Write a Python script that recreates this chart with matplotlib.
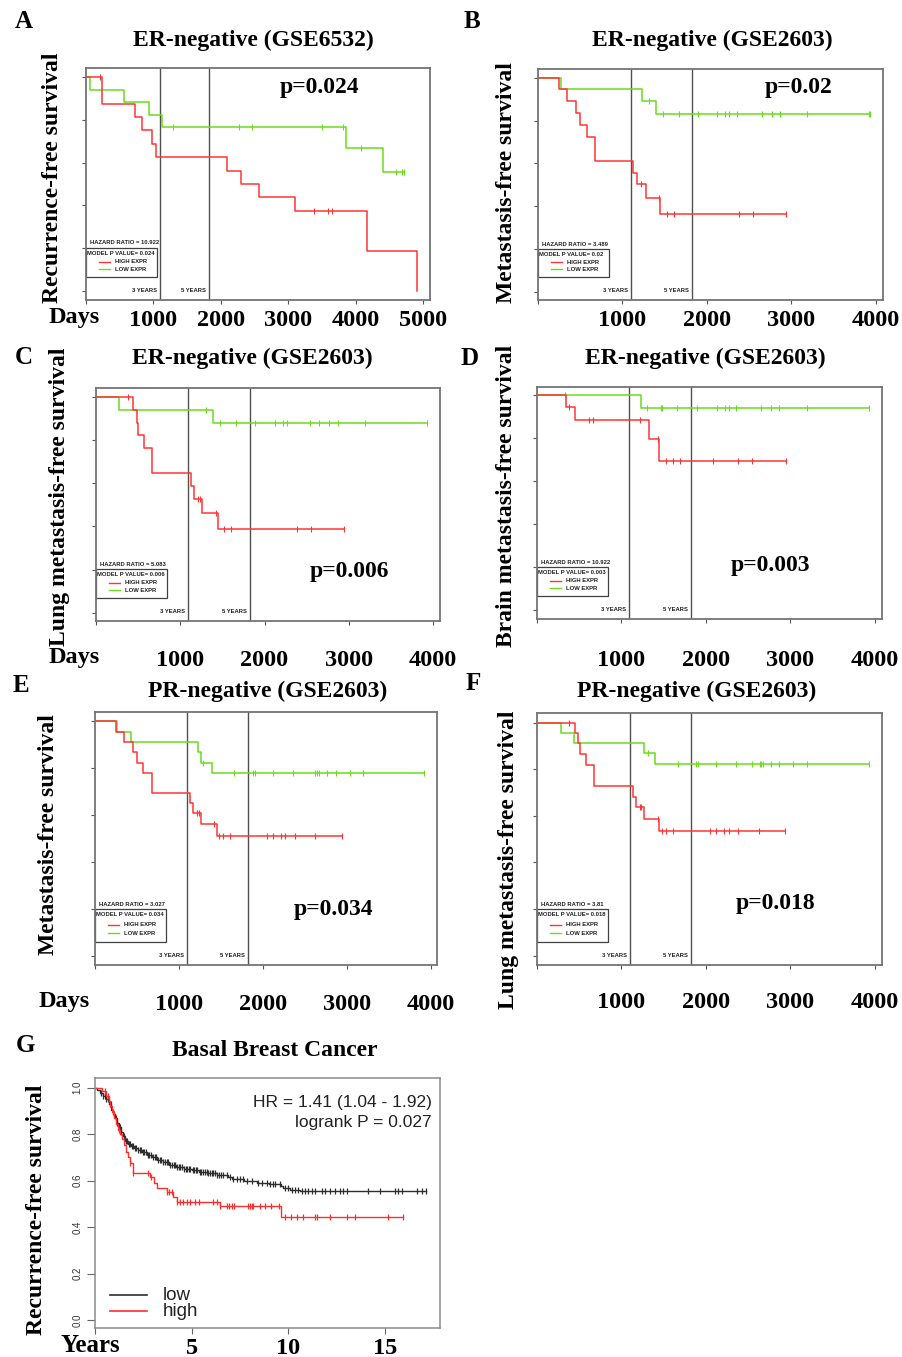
import numpy as np
import matplotlib
matplotlib.use("Agg")
import matplotlib.pyplot as plt
from matplotlib.lines import Line2D
from matplotlib.patches import Rectangle
import matplotlib.transforms as mtransforms

# ---------------------------------------------------------------- data
panel_letters = ["A", "B", "C", "D", "E", "F"]
panel_titles = ["ER-negative (GSE6532)", "ER-negative (GSE2603)", "ER-negative (GSE2603)",
                "ER-negative (GSE2603)", "PR-negative (GSE2603)", "PR-negative (GSE2603)"]
panel_ylabels = ["Recurrence-free survival", "Metastasis-free survival",
                 "Lung metastasis-free survival", "Brain metastasis-free survival",
                 "Metastasis-free survival", "Lung metastasis-free survival"]
p_labels = ["p=0.024", "p=0.02", "p=0.006", "p=0.003", "p=0.034", "p=0.018"]
hazard_ratios = ["10.922", "3.489", "5.083", "10.922", "3.027", "3.81"]
model_p_values = ["0.024", "0.02", "0.006", "0.003", "0.034", "0.018"]
year_marks_days = [1095, 1825]
year_mark_labels = ["3 YEARS", "5 YEARS"]
x_ticks_A = [0, 1000, 2000, 3000, 4000, 5000]
x_ticks_BF = [0, 1000, 2000, 3000, 4000]
km_y_ticks = [0.0, 0.2, 0.4, 0.6, 0.8, 1.0]
legend_labels = ["HIGH EXPR", "LOW EXPR"]

# Panel A (days)
a_high_t = [242, 727, 826, 974, 1039, 2087, 2295, 2562, 3096, 4164, 4906]
a_high_s = [0.875, 0.8125, 0.75, 0.6875, 0.625, 0.5625, 0.5, 0.4375, 0.375, 0.1875, 0.0]
a_high_c = [208, 3383, 3586, 3645]
a_low_t = [59, 564, 935, 1133, 3858, 4402]
a_low_s = [0.941, 0.882, 0.824, 0.765, 0.669, 0.557]
a_low_c = [1286, 2275, 2463, 3497, 3818, 4075, 4599, 4683, 4718]

# Panel B
b_high_t = [252, 343, 454, 501, 580, 675, 1128, 1172, 1274, 1448]
b_high_s = [0.946, 0.892, 0.835, 0.778, 0.724, 0.612, 0.556, 0.503, 0.438, 0.366]
b_high_c = [1223, 1428, 1531, 1609, 2383, 2544, 2939]
b_low_t = [276, 1227, 1396]
b_low_s = [0.946, 0.891, 0.831]
b_low_c = [1314, 1475, 1665, 1893, 2122, 2217, 2264, 2355, 2651, 2769, 2868, 3183, 3913, 3925]

# Panel C
c_high_t = [443, 483, 502, 574, 669, 1128, 1167, 1262, 1444]
c_high_s = [0.941, 0.881, 0.823, 0.763, 0.647, 0.586, 0.529, 0.462, 0.386]
c_high_c = [376, 1215, 1234, 1424, 1523, 1606, 2382, 2548, 2948]
c_low_t = [273, 1393]
c_low_s = [0.941, 0.882]
c_low_c = [1302, 1472, 1666, 1891, 2125, 2220, 2267, 2544, 2647, 2766, 2872, 3193, 3925]

# Panel D
d_high_t = [340, 451, 1329, 1448]
d_high_s = [0.946, 0.884, 0.797, 0.697]
d_high_c = [376, 613, 669, 1223, 1432, 1527, 1606, 1689, 2089, 2382, 2552, 2944]
d_low_t = [1227]
d_low_s = [0.941]
d_low_c = [335, 1306, 1464, 1476, 1658, 1891, 2129, 2223, 2271, 2354, 2651, 2769, 2872, 3193, 3929]

# Panel E
e_high_t = [246, 342, 449, 497, 576, 675, 1132, 1172, 1263, 1454]
e_high_s = [0.956, 0.912, 0.868, 0.824, 0.781, 0.694, 0.653, 0.610, 0.562, 0.511]
e_high_c = [1219, 1243, 1422, 1478, 1521, 1613, 2050, 2125, 2217, 2264, 2383, 2622, 2939]
e_low_t = [266, 429, 1227, 1267, 1394]
e_low_s = [0.956, 0.912, 0.868, 0.824, 0.780]
e_low_c = [1291, 1660, 1887, 1907, 2125, 2355, 2622, 2649, 2669, 2761, 2868, 3031, 3186, 3921]

# Panel F
f_high_t = [454, 481, 505, 580, 671, 1132, 1172, 1266, 1448]
f_high_s = [0.956, 0.913, 0.864, 0.820, 0.729, 0.681, 0.637, 0.587, 0.536]
f_high_c = [375, 1215, 1235, 1428, 1479, 1531, 1606, 2051, 2122, 2217, 2268, 2383, 2627, 2939]
f_low_t = [284, 434, 1266, 1396]
f_low_s = [0.956, 0.913, 0.870, 0.824]
f_low_c = [1310, 1665, 1886, 1905, 2122, 2359, 2544, 2635, 2655, 2674, 2769, 2868, 3030, 3195, 3925]

# Panel G (years)
g_title = "Basal Breast Cancer"
g_ylabel = "Recurrence-free survival"
g_hr_text = "HR = 1.41 (1.04 - 1.92)"
g_logrank_text = "logrank P = 0.027"
g_groups = ["low", "high"]
g_x_ticks = [0, 5, 10, 15]
g_y_ticks = [0.0, 0.2, 0.4, 0.6, 0.8, 1.0]
g_low_t = [0.1, 0.25, 0.4, 0.55, 0.7, 0.85, 0.95, 1.05, 1.15, 1.25, 1.35, 1.45, 1.55, 1.7,
           1.85, 2.0, 2.2, 2.45, 2.7, 2.95, 3.2, 3.5, 3.85, 4.2, 4.6, 5.0, 5.4, 5.8, 6.3,
           6.9, 7.1, 7.7, 8.4, 9.0, 9.6, 9.75, 10.1, 10.6]
g_low_s = [0.99, 0.978, 0.965, 0.95, 0.93, 0.905, 0.888, 0.87, 0.85, 0.83, 0.81, 0.792,
           0.772, 0.76, 0.75, 0.742, 0.733, 0.722, 0.71, 0.70, 0.689, 0.679, 0.669, 0.66,
           0.652, 0.645, 0.639, 0.632, 0.625, 0.618, 0.606, 0.60, 0.592, 0.584, 0.577,
           0.569, 0.562, 0.555]
g_low_c = [0.32, 0.41, 0.5, 0.58, 0.66, 0.77, 0.83, 0.97, 1.08, 1.16, 1.28, 1.37, 1.49,
           1.58, 1.66, 1.74, 1.83, 1.9, 1.97, 2.05, 2.14, 2.22, 2.31, 2.38, 2.47, 2.56,
           2.63, 2.74, 2.81, 2.9, 3.02, 3.09, 3.17, 3.26, 3.35, 3.44, 3.52, 3.6, 3.71,
           3.79, 3.88, 3.96, 4.07, 4.15, 4.24, 4.33, 4.42, 4.5, 4.61, 4.69, 4.77, 4.86,
           4.94, 5.05, 5.13, 5.22, 5.3, 5.41, 5.49, 5.6, 5.68, 5.77, 5.86, 5.95, 6.04,
           6.13, 6.22, 6.3, 6.39, 6.5, 6.64, 6.81, 6.98, 7.16, 7.33, 7.5, 7.67, 7.85,
           8.1, 8.45, 8.62, 8.88, 9.05, 9.22, 9.31, 9.57, 9.83, 10.0, 10.17, 10.35,
           10.52, 10.69, 10.86, 11.03, 11.21, 11.38, 11.73, 11.9, 12.16, 12.42, 12.67,
           12.84, 13.02, 14.14, 14.74, 15.52, 15.69, 15.86, 16.64, 16.9, 17.12]
g_high_t = [0.35, 0.55, 0.7, 0.8, 0.9, 1.0, 1.1, 1.2, 1.3, 1.4, 1.5, 1.6, 1.7, 1.8, 1.95,
            2.85, 3.05, 3.2, 3.7, 4.05, 4.25, 6.45, 9.6]
g_high_s = [0.985, 0.965, 0.945, 0.92, 0.895, 0.87, 0.845, 0.82, 0.80, 0.78, 0.755, 0.725,
            0.70, 0.675, 0.635, 0.617, 0.59, 0.567, 0.55, 0.53, 0.508, 0.493, 0.442]
g_high_c = [0.52, 0.69, 0.95, 1.26, 1.81, 1.98, 2.76, 2.88, 3.71, 3.84, 3.97, 4.26, 4.4,
            4.57, 4.78, 4.91, 5.17, 5.38, 6.12, 6.29, 6.47, 6.81, 6.95, 7.07, 7.19, 7.93,
            8.02, 8.1, 8.19, 8.53, 8.79, 9.09, 9.52, 9.83, 10.12, 10.43, 10.78, 11.4,
            11.5, 12.16, 13.02, 13.45, 15.17, 15.95]

km_data = [
    (a_high_t, a_high_s, a_high_c, a_low_t, a_low_s, a_low_c),
    (b_high_t, b_high_s, b_high_c, b_low_t, b_low_s, b_low_c),
    (c_high_t, c_high_s, c_high_c, c_low_t, c_low_s, c_low_c),
    (d_high_t, d_high_s, d_high_c, d_low_t, d_low_s, d_low_c),
    (e_high_t, e_high_s, e_high_c, e_low_t, e_low_s, e_low_c),
    (f_high_t, f_high_s, f_high_c, f_low_t, f_low_s, f_low_c),
]

# ---------------------------------------------------------------- layout / style
W, H = 903, 1357
SERIF = ["Liberation Serif", "DejaVu Serif"]
SANS = ["Liberation Sans", "DejaVu Sans"]
RED = "#ff3535"
GREEN = "#6bdc1e"
FRAME = "#747474"
VLINE = "#505050"
BIG = 17.5

# pixel boxes (x0, y0, x1, y1), x max, y limits, tick label pad (pt)
layout = [
    dict(box=(86, 68, 430, 300), xmax=5104, ylim=(-0.042, 1.042), pad=4.5,
         title=(253, 40), letter=(24, 22), ylab=(53, 178), p=(320, 88), days=(74, 318), lg_h=29),
    dict(box=(538, 69, 883, 300), xmax=4083, ylim=(-0.036, 1.040), pad=4.5,
         title=(712, 40), letter=(472, 21), ylab=(507, 183), p=(799, 88), days=None, lg_h=28),
    dict(box=(96, 388, 440, 621), xmax=4083, ylim=(-0.039, 1.043), pad=18.0,
         title=(252, 358), letter=(24, 357), ylab=(60, 497), p=(349, 572), days=(74, 658), lg_h=29),
    dict(box=(537, 387, 882, 619), xmax=4087, ylim=(-0.040, 1.039), pad=19.5,
         title=(705, 358), letter=(470, 358), ylab=(507, 496), p=(770, 565), days=None, lg_h=29),
    dict(box=(95, 712, 437, 965), xmax=4072, ylim=(-0.038, 1.040), pad=18.0,
         title=(268, 691), letter=(21, 685), ylab=(49, 835), p=(334, 910), days=(64, 1002), lg_h=33),
    dict(box=(537, 713, 882, 965), xmax=4083, ylim=(-0.040, 1.041), pad=16.5,
         title=(697, 691), letter=(473, 684), ylab=(509, 860), p=(776, 904), days=None, lg_h=33),
]

fig = plt.figure(figsize=(W / 100, H / 100), dpi=100)


def add_ax(box):
    x0, y0, x1, y1 = box
    return fig.add_axes([x0 / W, 1 - y1 / H, (x1 - x0) / W, (y1 - y0) / H])


def ftext(px, py, s, **kw):
    fig.text(px / W, 1 - py / H, s, **kw)


def km_draw(ax, t, s, c, color, lw, ms, mew):
    t = np.asarray(t, float)
    s = np.asarray(s, float)
    c = np.asarray(c, float)
    t_end = max(t.max(), c.max())
    xs = np.concatenate([[0.0], t, [t_end]])
    ys = np.concatenate([[1.0], s, [s[-1]]])
    ax.step(xs, ys, where="post", color=color, lw=lw)
    idx = np.searchsorted(t, c, side="right")
    yc = np.concatenate([[1.0], s])[idx]
    ax.plot(c, yc, ls="none", marker="|", ms=ms, mew=mew, color=color)


for i, L in enumerate(layout):
    x0, y0, x1, y1 = L["box"]
    aw, ah = x1 - x0, y1 - y0
    ax = add_ax(L["box"])
    ax.set_xlim(0, L["xmax"])
    ax.set_ylim(*L["ylim"])
    for sp in ax.spines.values():
        sp.set_color(FRAME)
        sp.set_linewidth(1.3)
    xt = x_ticks_A if i == 0 else x_ticks_BF
    ax.set_xticks(xt)
    ax.set_xticklabels([""] + [str(v) for v in xt[1:]], fontfamily=SERIF,
                       fontweight="bold", fontsize=BIG)
    ax.set_yticks(km_y_ticks)
    ax.set_yticklabels([])
    ax.tick_params(direction="out", length=3, width=0.8, color="#555555")
    ax.tick_params(axis="x", pad=L["pad"])

    for d in year_marks_days:
        ax.axvline(d, color=VLINE, lw=1.0)
    trans = mtransforms.blended_transform_factory(ax.transData, ax.transAxes)
    for d, lab in zip(year_marks_days, year_mark_labels):
        tr = mtransforms.offset_copy(trans, fig=fig, x=-3, y=0, units="dots")
        ax.text(d, 9.5 / ah, lab, transform=tr, ha="right", va="center",
                fontsize=4.2, fontfamily=SANS, fontweight="bold", color="#222222")

    ht, hs, hc, lt, ls_, lc = km_data[i]
    km_draw(ax, lt, ls_, lc, GREEN, 1.1, 3.8, 0.8)
    km_draw(ax, ht, hs, hc, RED, 1.1, 3.8, 0.8)

    # in-plot legend box
    lh = L["lg_h"]
    bx0, bw = 0.0, 71.0
    bbot = 23.0
    btop = bbot + lh
    ax.add_patch(Rectangle((bx0 / aw, bbot / ah), bw / aw, lh / ah, transform=ax.transAxes,
                           fill=False, ec="#404040", lw=0.9, clip_on=False))
    ax.text(4 / aw, (btop + 5) / ah, "HAZARD RATIO = " + hazard_ratios[i],
            transform=ax.transAxes, ha="left", va="center", fontsize=4.2,
            fontfamily=SANS, fontweight="bold", color="#222222")
    ax.text(1.5 / aw, (btop - 0.18 * lh) / ah, "MODEL P VALUE= " + model_p_values[i],
            transform=ax.transAxes, ha="left", va="center", fontsize=4.2,
            fontfamily=SANS, fontweight="bold", color="#222222")
    for frac, col, lab in [(0.48, RED, legend_labels[0]), (0.73, GREEN, legend_labels[1])]:
        yy = (btop - frac * lh) / ah
        ax.add_line(Line2D([13 / aw, 24 / aw], [yy, yy], transform=ax.transAxes,
                           color=col, lw=1.0))
        ax.text(29 / aw, yy, lab, transform=ax.transAxes, ha="left", va="center",
                fontsize=4.2, fontfamily=SANS, fontweight="bold", color="#222222")

    # surrounding texts
    ftext(*L["title"], panel_titles[i], ha="center", va="center", fontfamily=SERIF,
          fontweight="bold", fontsize=17)
    ftext(*L["letter"], panel_letters[i], ha="center", va="center", fontfamily=SERIF,
          fontweight="bold", fontsize=18)
    ftext(*L["ylab"], panel_ylabels[i], ha="center", va="center", rotation=90,
          fontfamily=SERIF, fontweight="bold", fontsize=17)
    ftext(*L["p"], p_labels[i], ha="center", va="center", fontfamily=SERIF,
          fontweight="bold", fontsize=17)
    if L["days"] is not None:
        ftext(*L["days"], "Days", ha="center", va="center", fontfamily=SERIF,
              fontweight="bold", fontsize=BIG)

# ---------------------------------------------------------------- panel G
gbox = (95, 1078, 440, 1328)
gx0, gy0, gx1, gy1 = gbox
gw, gh = gx1 - gx0, gy1 - gy0
axg = add_ax(gbox)
axg.set_xlim(0, 17.85)
axg.set_ylim(-0.034, 1.042)
for sp in axg.spines.values():
    sp.set_color("#8a8a8a")
    sp.set_linewidth(1.1)
axg.set_xticks(g_x_ticks)
axg.set_xticklabels([""] + [str(v) for v in g_x_ticks[1:]], fontfamily=SERIF,
                    fontweight="bold", fontsize=BIG)
axg.set_yticks(g_y_ticks)
axg.set_yticklabels(["%.1f" % v for v in g_y_ticks], rotation=90, va="center",
                    fontfamily=SANS, fontsize=7, color="#333333")
axg.tick_params(axis="y", direction="out", length=6, width=0.8, color="#666666", pad=3)
axg.tick_params(axis="x", direction="out", length=4, width=0.8, color="#666666", pad=3.5)

LOWC = "#2e2e2e"
HIGHC = "#ff2e2e"
km_draw(axg, g_low_t, g_low_s, g_low_c, LOWC, 1.0, 4.5, 0.9)
km_draw(axg, g_high_t, g_high_s, g_high_c, HIGHC, 1.0, 4.5, 0.9)

axg.text((432 - gx0) / gw, (gy1 - 1102) / gh, g_hr_text, transform=axg.transAxes,
         ha="right", va="center", fontfamily=SANS, fontsize=12.5, color="#222222")
axg.text((432 - gx0) / gw, (gy1 - 1123) / gh, g_logrank_text, transform=axg.transAxes,
         ha="right", va="center", fontfamily=SANS, fontsize=12.5, color="#222222")
for yy, col, lab in [(1295, LOWC, g_groups[0]), (1311, HIGHC, g_groups[1])]:
    fy_ = (gy1 - yy) / gh
    axg.add_line(Line2D([(110 - gx0) / gw, (147 - gx0) / gw], [fy_, fy_],
                        transform=axg.transAxes, color=col, lw=1.2))
    axg.text((163 - gx0) / gw, fy_, lab, transform=axg.transAxes, ha="left",
             va="center", fontfamily=SANS, fontsize=13.5, color="#222222")

ftext(275, 1050, g_title, ha="center", va="center", fontfamily=SERIF,
      fontweight="bold", fontsize=17)
ftext(25, 1045, "G", ha="center", va="center", fontfamily=SERIF,
      fontweight="bold", fontsize=18)
ftext(37, 1210, g_ylabel, ha="center", va="center", rotation=90, fontfamily=SERIF,
      fontweight="bold", fontsize=17)
ftext(90, 1345, "Years", ha="center", va="center", fontfamily=SERIF,
      fontweight="bold", fontsize=18)

fig.savefig("out.png", dpi=100, facecolor="white")
